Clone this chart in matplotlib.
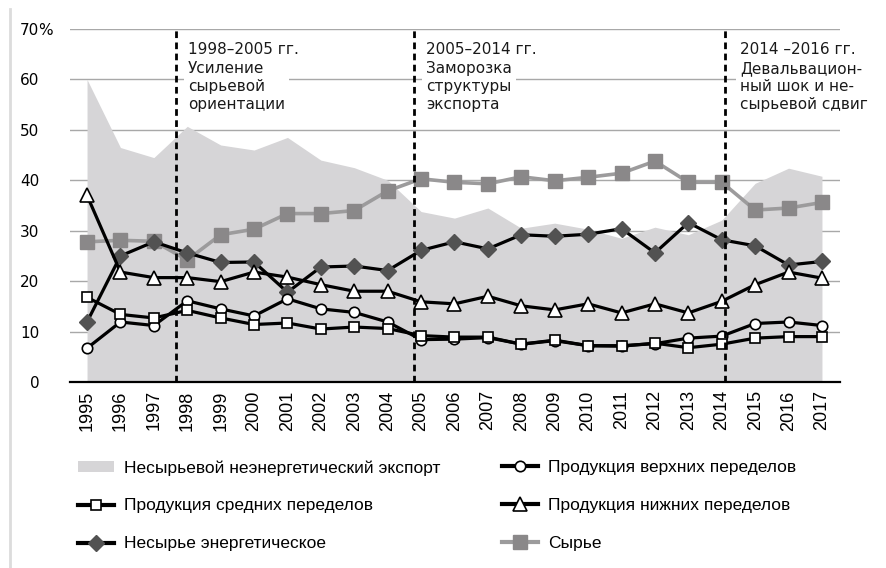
import matplotlib.pyplot as plt
from matplotlib.lines import Line2D
from matplotlib.patches import Patch

years = list(range(1995, 2018))

# Несырьевой неэнергетический экспорт (area)
non_raw_area = [60.0, 46.5, 44.5, 50.7, 47.0, 46.0, 48.5, 44.0, 42.5, 40.0, 33.8, 32.5,
                34.5, 30.5, 31.5, 30.3, 28.5, 30.7, 29.2, 32.1, 39.4, 42.4, 40.8]
# Сырье
raw = [27.8, 28.1, 27.9, 24.2, 29.2, 30.3, 33.4, 33.4, 34.0, 37.9, 40.3, 39.6,
       39.3, 40.7, 39.9, 40.6, 41.4, 43.8, 39.6, 39.6, 34.1, 34.5, 35.6]
# Несырье энергетическое
energy = [11.9, 25.0, 27.8, 25.6, 23.7, 23.8, 17.8, 22.8, 23.0, 22.1, 26.1, 27.8,
          26.4, 29.2, 28.9, 29.3, 30.4, 25.6, 31.6, 28.2, 27.0, 23.2, 23.9]
# Продукция нижних переделов
lower = [37.0, 21.8, 20.7, 20.7, 19.9, 21.8, 20.8, 19.3, 18.0, 18.0, 15.9, 15.5,
         17.0, 15.1, 14.3, 15.5, 13.7, 15.5, 13.7, 16.0, 19.3, 21.8, 20.6]
# Продукция верхних переделов
upper = [6.7, 11.9, 11.2, 16.1, 14.5, 13.1, 16.5, 14.5, 13.8, 11.9, 8.4, 8.5,
         8.8, 7.5, 8.2, 7.2, 7.2, 7.6, 8.7, 9.1, 11.6, 11.9, 11.2]
# Продукция средних переделов
middle = [16.8, 13.4, 12.7, 14.2, 12.7, 11.4, 11.7, 10.5, 10.9, 10.6, 9.2, 8.9,
          8.9, 7.5, 8.3, 7.2, 7.1, 7.7, 6.8, 7.5, 8.7, 9.0, 9.0]

periods = [1997.67, 2004.8, 2014.1]
period_titles = ['1998–2005 гг.', '2005–2014 гг.', '2014 –2016 гг.']
period_texts = ['Усиление\nсырьевой\nориентации',
                'Заморозка\nструктуры\nэкспорта',
                'Девальвацион-\nный шок и не-\nсырьевой сдвиг']
period_text_x = [1998.02, 2005.15, 2014.55]

yticks = [0, 10, 20, 30, 40, 50, 60, 70]

AREA = '#d6d5d7'

fig = plt.figure(figsize=(8.86, 5.68), dpi=100)
ax = fig.add_axes([70 / 886, 1 - 382 / 568, 770 / 886, 353 / 568])

ax.fill_between(years, non_raw_area, color=AREA, lw=0, zorder=1)

ax.plot(years, raw, color='#9c9b9c', lw=2.6, marker='s', ms=9.5,
        mfc='#8a8889', mec='#8a8889', zorder=3)
ax.plot(years, energy, color='black', lw=2.3, marker='D', ms=8,
        mfc='#525252', mec='#525252', zorder=4)
ax.plot(years, lower, color='black', lw=2.3, marker='^', ms=9.5,
        mfc='white', mec='black', mew=1.2, zorder=5)
ax.plot(years, upper, color='black', lw=2.3, marker='o', ms=7.5,
        mfc='white', mec='black', mew=1.2, zorder=6)
ax.plot(years, middle, color='black', lw=2.3, marker='s', ms=7.5,
        mfc='white', mec='black', mew=1.2, zorder=7)

for x in periods:
    ax.axvline(x, color='black', lw=2, dashes=(2.4, 1.6), zorder=8)

for x, title, body in zip(period_text_x, period_titles, period_texts):
    ax.text(x, 67.4, title, fontsize=11, family='DejaVu Sans', va='top',
            ha='left', color='#1a1a1a', zorder=1.5)
    ax.text(x, 63.6, body, fontsize=11, family='DejaVu Sans', va='top',
            ha='left', color='#1a1a1a', linespacing=1.22, zorder=1.5,
            bbox=dict(facecolor='white', edgecolor='none', pad=3))

ax.set_xlim(1994.49, 2017.54)
ax.set_ylim(0, 70)
ax.set_yticks(yticks)
ax.set_yticklabels([str(v) for v in yticks], fontsize=11, family='DejaVu Sans')
ax.set_xticks(years)
ax.set_xticklabels([str(y) for y in years], rotation=90, fontsize=13,
                   family='Liberation Sans')
ax.tick_params(axis='y', length=0, pad=22)
ax.tick_params(axis='x', length=0, pad=6)
ax.annotate('%', xy=(0, 70), xycoords=('axes fraction', 'data'),
            xytext=(-32, 0), textcoords='offset pixels', ha='left',
            va='center_baseline', fontsize=11, family='DejaVu Sans')

ax.set_axisbelow(True)
ax.yaxis.grid(True, color='#a8a8a8', lw=1)
for side in ['left', 'right', 'top']:
    ax.spines[side].set_visible(False)
ax.spines['bottom'].set_color('black')
ax.spines['bottom'].set_linewidth(1.6)
ax.spines['bottom'].set_zorder(9)

# faint left border of the original graphic
fig.add_artist(Line2D([0.011, 0.011], [0.0, 0.985], color='#dcdcdc', lw=2))

blk = dict(color='black', lw=3, mec='black', mew=1.2)
col1 = [Patch(facecolor=AREA, edgecolor='none'),
        Line2D([], [], marker='s', ms=7.5, mfc='white', **blk),
        Line2D([], [], marker='D', ms=8, color='black', lw=3, mfc='#525252', mec='#525252')]
col1_labels = ['Несырьевой неэнергетический экспорт', 'Продукция средних переделов',
               'Несырье энергетическое']
col2 = [Line2D([], [], marker='o', ms=7.5, mfc='white', **blk),
        Line2D([], [], marker='^', ms=9.5, mfc='white', **blk),
        Line2D([], [], marker='s', ms=9.5, color='#9c9b9c', lw=3, mfc='#8a8889', mec='#8a8889')]
col2_labels = ['Продукция верхних переделов', 'Продукция нижних переделов', 'Сырье']

leg_kw = dict(loc='upper left', frameon=False,
              prop={'family': 'Liberation Sans', 'size': 12.5},
              handlelength=2.1, handleheight=0.6, handletextpad=0.55,
              labelspacing=1.32, borderpad=0, borderaxespad=0)
fig.legend(col1, col1_labels, bbox_to_anchor=(78 / 886, 1 - 460 / 568), **leg_kw)
fig.legend(col2, col2_labels, bbox_to_anchor=(502 / 886, 1 - 460 / 568), **leg_kw)

fig.savefig('out.png', dpi=100)
